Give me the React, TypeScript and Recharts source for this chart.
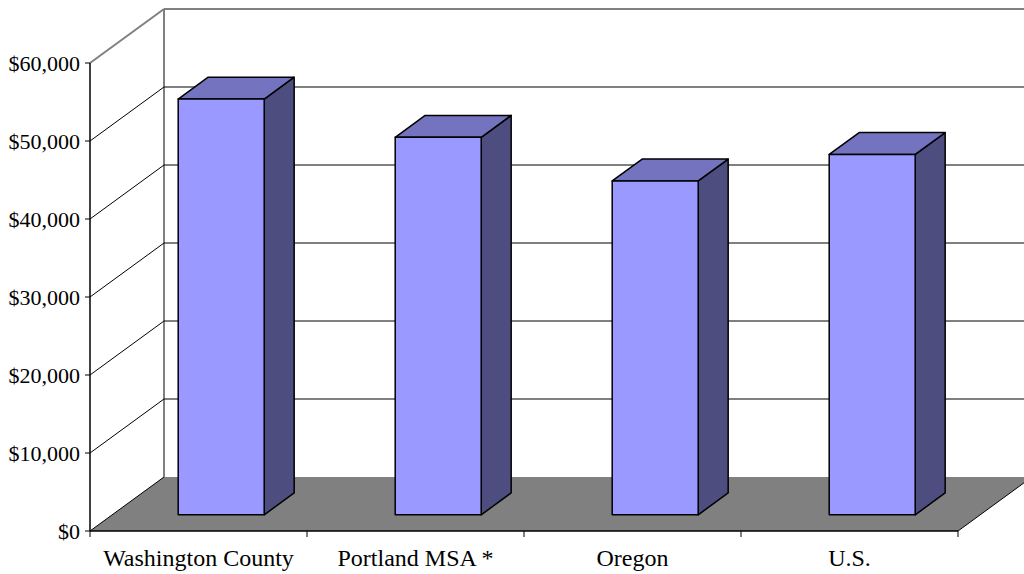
import React from 'react';
import { BarChart, Bar, XAxis, YAxis, ReferenceLine, ReferenceArea } from 'recharts';

const categories = ['Washington County', 'Portland MSA *', 'Oregon', 'U.S.'];
const incomeValues = [53300, 48400, 42800, 46200];
const yTicks = [0, 10000, 20000, 30000, 40000, 50000, 60000];

const data = categories.map((name, i) => ({ name, value: incomeValues[i] }));

// oblique projection of the box: how far the back wall sits from the front plane
const DEPTH_X = 74;
const DEPTH_Y = 54;
// bars sit between 30% and 70% of the depth
const BAR_FRONT = 0.3;
const BAR_DEPTH = 0.405;

const font = "'Liberation Serif', 'DejaVu Serif', serif";
const fmtMoney = (v: number) => '$' + v.toLocaleString('en-US');

function Bar3D(props: any) {
  const { x, y, width, height } = props;
  const fx = x + DEPTH_X * BAR_FRONT;
  const fy = y - DEPTH_Y * BAR_FRONT;
  const dx = DEPTH_X * BAR_DEPTH;
  const dy = DEPTH_Y * BAR_DEPTH;
  const r = fx + width;
  const b = fy + height;
  return (
    <g stroke="#000" strokeWidth={1.5} strokeLinejoin="round">
      <polygon points={`${r},${fy} ${r + dx},${fy - dy} ${r + dx},${b - dy} ${r},${b}`} fill="#4D4D80" />
      <polygon points={`${fx},${fy} ${fx + dx},${fy - dy} ${r + dx},${fy - dy} ${r},${fy}`} fill="#7373BF" />
      <rect x={fx} y={fy} width={width} height={height} fill="#9999FF" />
    </g>
  );
}

// floor, back wall edges and the top of the side wall
function Frame(props: any) {
  const { x, y, width, height } = props;
  const bottom = y + height;
  const right = x + width;
  return (
    <g>
      <polygon
        points={`${x},${bottom} ${right},${bottom} ${right + DEPTH_X},${bottom - DEPTH_Y} ${x + DEPTH_X},${bottom - DEPTH_Y}`}
        fill="#808080"
      />
      <line x1={x} y1={bottom} x2={x + DEPTH_X} y2={bottom - DEPTH_Y} stroke="#000" strokeWidth={1} />
      <line x1={right} y1={bottom} x2={right + DEPTH_X} y2={bottom - DEPTH_Y} stroke="#000" strokeWidth={1} />
      <line x1={x + DEPTH_X} y1={y - DEPTH_Y} x2={x + DEPTH_X} y2={bottom - DEPTH_Y} stroke="#808080" strokeWidth={2} />
      <line x1={x} y1={y} x2={x + DEPTH_X} y2={y - DEPTH_Y} stroke="#808080" strokeWidth={2} />
      <line x1={x + DEPTH_X} y1={y - DEPTH_Y} x2={right + DEPTH_X} y2={y - DEPTH_Y} stroke="#808080" strokeWidth={2} />
    </g>
  );
}

function GridLine3D(props: any) {
  const { x1, y1, x2 } = props;
  return (
    <g stroke="#000" strokeWidth={1}>
      <line x1={x1} y1={y1} x2={x1 + DEPTH_X} y2={y1 - DEPTH_Y} />
      <line x1={x1 + DEPTH_X} y1={y1 - DEPTH_Y} x2={x2 + DEPTH_X} y2={y1 - DEPTH_Y} />
    </g>
  );
}

function CategoryTick(props: any) {
  const { x1, y1, y2 } = props;
  const b = Math.max(y1, y2);
  return <line x1={x1} y1={b} x2={x1} y2={b + 6} stroke="#000" strokeWidth={1} />;
}

function XTick(props: any) {
  const { x, y, payload } = props;
  return (
    <text x={x} y={y} dy={17} textAnchor="middle" fill="#000" fontSize={24} fontFamily={font}>
      {payload.value}
    </text>
  );
}

function YTick(props: any) {
  const { x, y, payload } = props;
  return (
    <text x={x} y={y} dy={8} textAnchor="end" fill="#000" fontSize={22} fontFamily={font}>
      {fmtMoney(payload.value)}
    </text>
  );
}

export default function App() {
  return (
    <div style={{ position: 'absolute', left: 0, top: 0, background: '#fff' }}>
      <BarChart
        width={1024}
        height={574}
        data={data}
        margin={{ top: 63, right: 66, bottom: 0, left: 0 }}
      >
        <XAxis
          dataKey="name"
          axisLine={{ stroke: '#000', strokeWidth: 1.5 }}
          tickLine={false}
          tickSize={0}
          tickMargin={18}
          height={43}
          interval={0}
          tick={<XTick />}
        />
        <YAxis
          domain={[0, 60000]}
          ticks={yTicks}
          interval={0}
          width={90}
          axisLine={{ stroke: '#000', strokeWidth: 1.5 }}
          tickLine={{ stroke: '#000' }}
          tickSize={5}
          tickMargin={5}
          tick={<YTick />}
        />
        <ReferenceArea y1={0} y2={60000} shape={<Frame />} zIndex={-60} />
        {yTicks.slice(1, -1).map((t) => (
          <ReferenceLine key={t} y={t} shape={<GridLine3D />} zIndex={-40} />
        ))}
        <ReferenceLine x={categories[0]} position="start" shape={<CategoryTick />} />
        {categories.map((c) => (
          <ReferenceLine key={c} x={c} position="end" shape={<CategoryTick />} />
        ))}
        <Bar dataKey="value" barSize={86} shape={<Bar3D />} isAnimationActive={false} />
      </BarChart>
    </div>
  );
}
